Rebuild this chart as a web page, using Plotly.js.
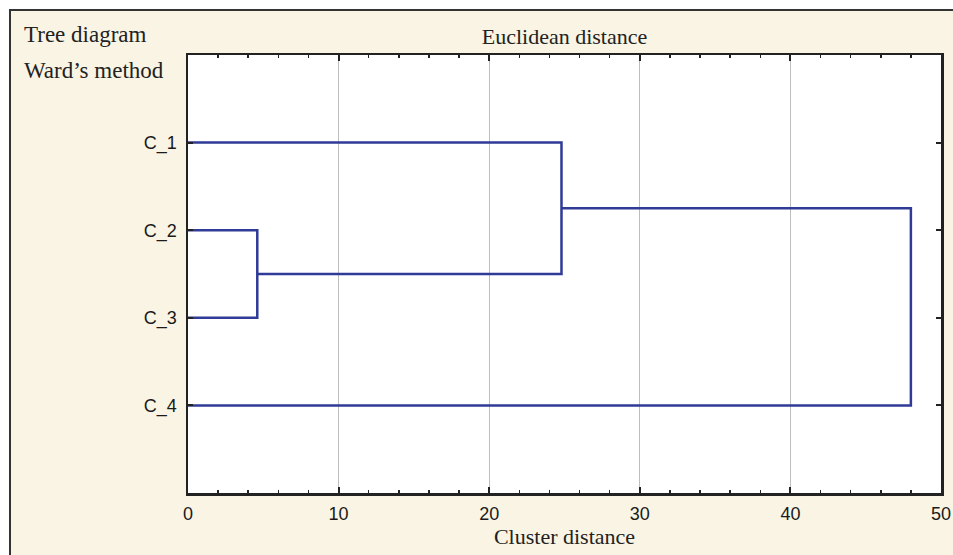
<!DOCTYPE html>
<html>
<head>
<meta charset="utf-8">
<script src="https://cdn.plot.ly/plotly-3.0.1.min.js"></script>
<style>
  html, body { margin: 0; padding: 0; background: #ffffff; }
  #frame { position: absolute; left: 9px; top: 9px; width: 960px; height: 560px;
           border-left: 2px solid #333; border-top: 2px solid #333; background: #f9f4e4; }
  #chart { position: absolute; left: 0; top: 0; width: 953px; height: 555px; }
</style>
</head>
<body>
<div id="frame"></div>
<div id="chart"></div>
<script>
// ---- data ----
const leaves = ['C_1', 'C_2', 'C_3', 'C_4'];
const mergeLeft = ['C_2', 'C_1', 'M2'];
const mergeRight = ['C_3', 'M1', 'C_4'];
const mergeHeight = [4.6, 24.8, 48.0];
const xTickValues = [0, 10, 20, 30, 40, 50];
const chartTitle = 'Euclidean distance';
const xTitle = 'Cluster distance';
const cornerLines = ['Tree diagram', 'Ward\u2019s method'];

// ---- build dendrogram segments ----
const node = {};
leaves.forEach((name, i) => { node[name] = { x: 0, y: i + 1 }; });
const xs = [], ys = [];
mergeHeight.forEach((h, i) => {
  const a = node[mergeLeft[i]], b = node[mergeRight[i]];
  xs.push(a.x, h, h, b.x, null);
  ys.push(a.y, a.y, b.y, b.y, null);
  node['M' + (i + 1)] = { x: h, y: (a.y + b.y) / 2 };
});

const trace = {
  type: 'scatter', mode: 'lines', x: xs, y: ys,
  line: { color: '#2f3b96', width: 2.5 }, hoverinfo: 'skip', showlegend: false
};

const axisFont = { family: 'Liberation Sans, Arial, sans-serif', size: 18, color: '#1a1a1a' };
const serif = 'Liberation Serif, Times New Roman, serif';

const layout = {
  width: 953, height: 555,
  margin: { l: 188, r: 12, t: 55, b: 62 },
  paper_bgcolor: 'rgba(0,0,0,0)',
  plot_bgcolor: '#ffffff',
  showlegend: false,
  title: {
    text: chartTitle, font: { family: serif, size: 22, color: '#222' },
    x: 0.5, xref: 'paper', y: 1 - 36 / 555, yref: 'container', yanchor: 'middle'
  },
  xaxis: {
    range: [0, 50], tickvals: xTickValues, ticks: 'inside', ticklen: 6, tickwidth: 2,
    tickcolor: '#222', showline: true, linecolor: '#222', linewidth: 2.5, mirror: 'allticks',
    showgrid: true, gridcolor: '#bdbdbd', gridwidth: 1, zeroline: false,
    tickfont: axisFont, ticklabelstandoff: 3,
    minor: { dtick: 2, ticks: 'inside', ticklen: 3, tickwidth: 1.5, tickcolor: '#222', showgrid: false },
    title: { text: xTitle, font: { family: serif, size: 22, color: '#222' }, standoff: 6 }
  },
  yaxis: {
    range: [5, 0], tickvals: [1, 2, 3, 4], ticktext: leaves, ticks: 'inside', ticklen: 5, tickwidth: 2,
    tickcolor: '#222', showline: true, linecolor: '#222', linewidth: 2.5, mirror: 'allticks',
    showgrid: false, zeroline: false, tickfont: axisFont, ticklabelstandoff: 5
  },
  annotations: cornerLines.map((t, i) => ({
    text: t, xref: 'paper', yref: 'paper', x: (22 - 188) / 753, y: (493 - (35 + 35 * i)) / 438,
    xanchor: 'left', yanchor: 'middle', showarrow: false,
    font: { family: serif, size: 23, color: '#222' }
  }))
};

Plotly.newPlot('chart', [trace], layout, { displayModeBar: false, staticPlot: true });
</script>
</body>
</html>
